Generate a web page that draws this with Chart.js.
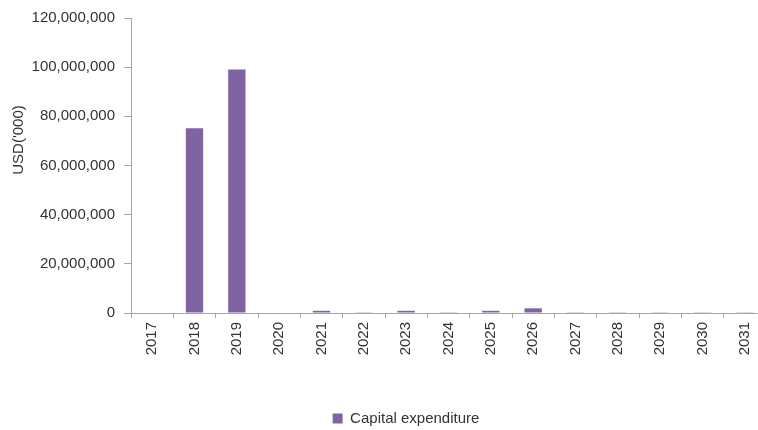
<!DOCTYPE html>
<html>
<head>
<meta charset="utf-8">
<script src="https://cdn.jsdelivr.net/npm/chart.js@4"></script>
<style>
  html, body { margin: 0; padding: 0; overflow: hidden; background: #fff; }
  #wrap { width: 770px; height: 430px; }
</style>
</head>
<body>
<div id="wrap"><canvas id="capex"></canvas></div>
<script>
// values, USD('000)
const years = ['2017','2018','2019','2020','2021','2022','2023','2024','2025','2026','2027','2028','2029','2030','2031'];
const capex = [200000, 75200000, 99100000, 200000, 900000, 300000, 900000, 300000, 900000, 1900000, 300000, 300000, 300000, 300000, 300000];
const seriesName = 'Capital expenditure';
const yTitle = "USD('000)";

const BAR_COLOR = '#8064A2';
const AXIS_COLOR = '#a6a6a6';
const TEXT_COLOR = '#333333';

Chart.defaults.font.family = '"Liberation Sans", Arial, sans-serif';
Chart.defaults.font.size = 15;
Chart.defaults.color = TEXT_COLOR;

// y title sits a bit above the middle of the axis in the original,
// and the legend is centred under the plot rather than the whole canvas
const tweakPlugin = {
  id: 'tweaks',
  afterLayout(chart) {
    const lg = chart.legend;
    lg.left += 23; lg.right += 23;
    lg.top += 8; lg.bottom += 8;
  },
  afterDraw(chart) {
    const c = chart.ctx;
    c.save();
    c.translate(19, 140);
    c.rotate(-Math.PI / 2);
    c.font = '15px "Liberation Sans", Arial, sans-serif';
    c.fillStyle = TEXT_COLOR;
    c.textAlign = 'center';
    c.textBaseline = 'middle';
    c.fillText(yTitle, 0, 0);
    c.restore();
  }
};

const ctx = document.getElementById('capex').getContext('2d');
const capexChart = new Chart(ctx, {
  type: 'bar',
  data: {
    labels: years,
    datasets: [{
      label: seriesName,
      data: capex,
      backgroundColor: BAR_COLOR,
      borderWidth: 0,
      categoryPercentage: 1.0,
      barPercentage: 0.41
    }]
  },
  options: {
    responsive: true,
    maintainAspectRatio: false,
    animation: false,
    layout: {
      padding: { top: 14, right: 4, left: 0, bottom: 2 }
    },
    plugins: {
      legend: {
        display: true,
        position: 'bottom',
        labels: {
          boxWidth: 10,
          boxHeight: 10,
          padding: 8,
          color: TEXT_COLOR,
          font: { size: 15 }
        }
      },
      tooltip: { enabled: false }
    },
    scales: {
      x: {
        offset: true,
        grid: {
          offset: true,
          drawOnChartArea: false,
          drawTicks: true,
          tickLength: 5,
          color: AXIS_COLOR
        },
        border: { color: AXIS_COLOR, width: 1 },
        ticks: {
          maxRotation: 90,
          minRotation: 90,
          padding: 4,
          autoSkip: false
        },
        afterFit: (scale) => { scale.height = 82; }
      },
      y: {
        min: 0,
        max: 120000000,
        grid: {
          drawOnChartArea: false,
          drawTicks: true,
          tickLength: 7,
          color: AXIS_COLOR
        },
        border: { color: AXIS_COLOR, width: 1 },
        ticks: {
          stepSize: 20000000,
          padding: 9,
          callback: (v) => v.toLocaleString('en-US')
        },
        afterFit: (scale) => { scale.width = 131; }
      }
    }
  },
  plugins: [tweakPlugin]
});
</script>
</body>
</html>
